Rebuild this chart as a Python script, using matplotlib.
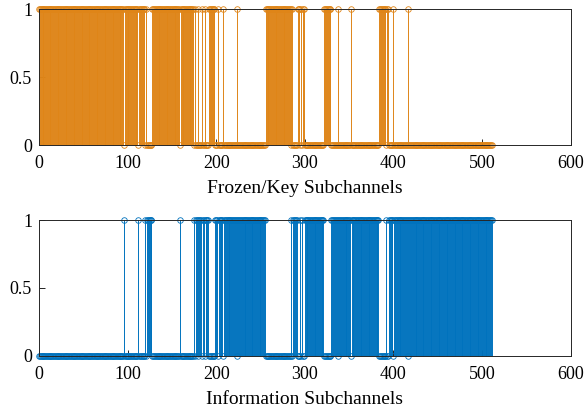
import numpy as np
import matplotlib
matplotlib.use('Agg')
import matplotlib.pyplot as plt

# Subchannel indices 0..511, info set as (first, last) runs
N = 512
info_runs = [(96, 96), (112, 112), (120, 120), (122, 127), (159, 159),
             (175, 175), (177, 179), (181, 183), (185, 186), (188, 191),
             (199, 201), (203, 207), (209, 223), (225, 255),
             (284, 284), (287, 291), (295, 295), (297, 297), (300, 321),
             (330, 337), (339, 351), (353, 383), (392, 392), (395, 399),
             (401, 415), (417, 511)]

idx = np.arange(N)
info = np.zeros(N)
for a, b in info_runs:
    info[a:b + 1] = 1
frozen = 1 - info

plt.rcParams['font.family'] = ['Liberation Serif', 'DejaVu Serif']
plt.rcParams['font.size'] = 13

blue = '#0072BD'
orange = '#DF8518'

fig = plt.figure(figsize=(5.87, 4.12), dpi=100)
ax1 = fig.add_axes([0.0664, 0.648, 0.9056, 0.330])
ax2 = fig.add_axes([0.0664, 0.136, 0.9056, 0.330])

for ax, y, c, lab in [(ax1, frozen, orange, 'Frozen/Key Subchannels'),
                      (ax2, info, blue, 'Information Subchannels')]:
    ml, sl, bl = ax.stem(idx, y)
    plt.setp(sl, color=c, linewidth=0.7)
    plt.setp(ml, color=c, marker='o', markerfacecolor='none',
             markersize=4, markeredgewidth=0.6, clip_on=False)
    bl.set_visible(False)
    sl.set_clip_on(False)
    ax.set_xlim(0, 600)
    ax.set_ylim(0, 1)
    ax.set_xticks(np.arange(0, 601, 100))
    ax.set_yticks([0, 0.5, 1])
    ax.set_yticklabels(['0', '0.5', '1'])
    ax.tick_params(axis='x', pad=7)
    ax.tick_params(axis='y', pad=5)
    ax.tick_params(direction='in', length=4, width=0.6, top=False, right=False,
                   labelsize=13)
    for s in ax.spines.values():
        s.set_linewidth(0.7)
        s.set_color('#262626')
    ax.set_xlabel(lab, fontsize=14, labelpad=6)

fig.savefig('out.png', dpi=100)
